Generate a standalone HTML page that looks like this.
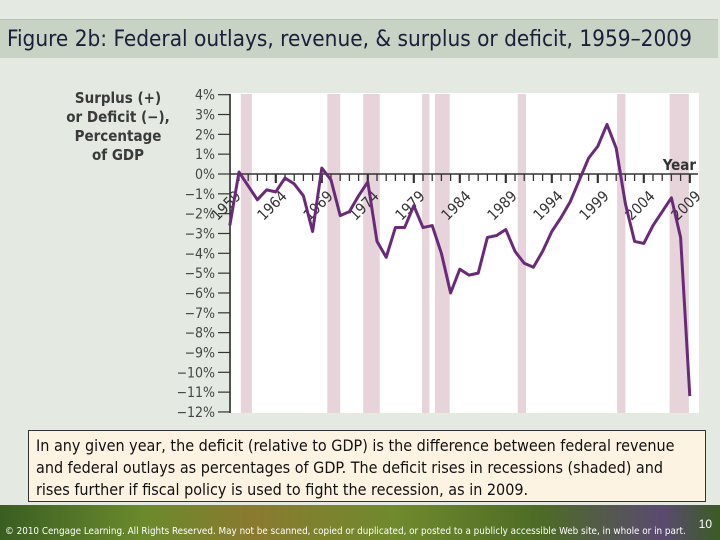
<!DOCTYPE html>
<html><head><meta charset="utf-8"><style>
body{margin:0;width:720px;height:540px;overflow:hidden;background:#e4eae2;font-family:"Liberation Sans",sans-serif;position:relative}
#title{position:absolute;left:0;top:19px;width:718px;height:39px;background:#c8d2c5;border-top:1px solid #b9c4b6;font-size:22.4px;color:#1a1f3a;line-height:39px;padding-left:7px;box-sizing:border-box;white-space:nowrap;font-family:"DejaVu Sans Condensed","Liberation Sans",sans-serif}
#note{position:absolute;left:28px;top:430px;width:678px;height:72px;background:#fdf3e2;border:1px solid #333;box-sizing:border-box;padding:4px 7px;font-size:16px;line-height:22px;color:#111;white-space:nowrap;font-family:"DejaVu Sans Condensed","Liberation Sans",sans-serif}
#footer{position:absolute;left:0;top:505px;width:720px;height:35px;background:linear-gradient(90deg,#3a5e22,#6b8a2c 20%,#8a7a30 35%,#6f8a2d 55%,#4d6b25 75%,#5a4a70 92%,#3b5c23)}
#footer span{position:absolute;left:5px;bottom:3px;font-size:9.8px;color:#fff;white-space:nowrap;font-family:"DejaVu Sans Condensed","Liberation Sans",sans-serif}
#pg{position:absolute;right:8px;top:12px;font-size:12px;color:#fff}
svg{position:absolute;left:0;top:0}
</style></head><body>
<div id="title">Figure 2b: Federal outlays, revenue, &amp; surplus or deficit, 1959–2009</div>
<svg id="chart" width="720" height="540"></svg>
<div id="note">In any given year, the deficit (relative to GDP) is the difference between federal revenue<br>and federal outlays as percentages of GDP. The deficit rises in recessions (shaded) and<br>rises further if fiscal policy is used to fight the recession, as in 2009.</div>
<div id="footer"><span>© 2010 Cengage Learning. All Rights Reserved. May not be scanned, copied or duplicated, or posted to a publicly accessible Web site, in whole or in part.</span><div id="pg">10</div></div>
<script>
const years=[1959,1960,1961,1962,1963,1964,1965,1966,1967,1968,1969,1970,1971,1972,1973,1974,1975,1976,1977,1978,1979,1980,1981,1982,1983,1984,1985,1986,1987,1988,1989,1990,1991,1992,1993,1994,1995,1996,1997,1998,1999,2000,2001,2002,2003,2004,2005,2006,2007,2008,2009];
const surplus=[-2.6,0.1,-0.6,-1.3,-0.8,-0.9,-0.2,-0.5,-1.1,-2.9,0.3,-0.3,-2.1,-1.9,-1.1,-0.4,-3.4,-4.2,-2.7,-2.7,-1.6,-2.7,-2.6,-4.0,-6.0,-4.8,-5.1,-5.0,-3.2,-3.1,-2.8,-3.9,-4.5,-4.7,-3.9,-2.9,-2.2,-1.4,-0.3,0.8,1.4,2.5,1.3,-1.5,-3.4,-3.5,-2.6,-1.9,-1.2,-3.2,-11.2];
const recStart=[1960.2,1969.6,1973.5,1979.9,1981.3,1990.3,2001.1,2006.8];
const recEnd=[1961.4,1971.0,1975.3,1980.7,1982.9,1991.2,2002.0,2008.9];
const yTicks=[4,3,2,1,0,-1,-2,-3,-4,-5,-6,-7,-8,-9,-10,-11,-12];
const yearLabels=[1959,1964,1969,1974,1979,1984,1989,1994,1999,2004,2009];
const NS="http://www.w3.org/2000/svg";
const svg=document.getElementById('chart');
const X=y=>239+(y-1960)*9.2;
const Y=v=>174-v*19.83;
function mk(t,a){const e=document.createElementNS(NS,t);for(const k in a)e.setAttribute(k,a[k]);svg.appendChild(e);return e;}
let r=mk('rect',{x:231,y:93,width:468,height:320,fill:'#fff'});


recStart.forEach((s,i)=>{const e=mk('rect',{x:X(s),y:94,width:X(recEnd[i])-X(s),height:319,fill:'#e6d4da'});

});
const yl=mk('text',{x:118,y:103,'text-anchor':'middle','font-size':15,'font-weight':'bold',fill:'#3a3a3a','font-family':'DejaVu Sans Condensed, Liberation Sans, sans-serif'});


['Surplus (+)','or Deficit (−),','Percentage','of GDP'].forEach((t,i)=>{const ts=document.createElementNS(NS,'tspan');ts.setAttribute('x',118);ts.setAttribute('dy',i?19:0);ts.textContent=t;yl.appendChild(ts);});
mk('line',{x1:230,y1:94,x2:230,y2:413,stroke:'#222','stroke-width':1.5});
yTicks.forEach(v=>{mk('line',{x1:218,x2:230,y1:Y(v),y2:Y(v),stroke:'#333','stroke-width':1.2});
const t=mk('text',{x:215,y:Y(v)+5,'text-anchor':'end','font-size':14,fill:'#444','font-family':'DejaVu Sans Condensed, Liberation Sans, sans-serif'});t.textContent=(v<0?'−'+(-v):v)+'%';

});
mk('line',{x1:230,x2:698,y1:Y(0),y2:Y(0),stroke:'#333','stroke-width':1.5});
for(let y=1960;y<=2009;y++){const big=(y%5==4);mk('line',{x1:X(y),x2:X(y),y1:Y(0),y2:Y(0)+(big?9:7),stroke:'#333','stroke-width':big?2.2:1.3});}
yearLabels.forEach(y=>{const ax=X(y)+12,ay=Y(0)+23;const t=mk('text',{x:ax,y:ay,'text-anchor':'end','font-size':15,fill:'#333','font-family':'DejaVu Sans Condensed, Liberation Sans, sans-serif',transform:`rotate(-45 ${ax} ${ay})`});t.textContent=y;

});
const yr=mk('text',{x:696,y:170,'text-anchor':'end','font-size':15,'font-weight':'bold',fill:'#333','font-family':'DejaVu Sans Condensed, Liberation Sans, sans-serif'});yr.textContent='Year';


const p=mk('polyline',{points:years.map((y,i)=>X(y)+','+Y(surplus[i])).join(' '),fill:'none',stroke:'#6a2a7a','stroke-width':3,'stroke-linejoin':'round'});


</script>
</body></html>
